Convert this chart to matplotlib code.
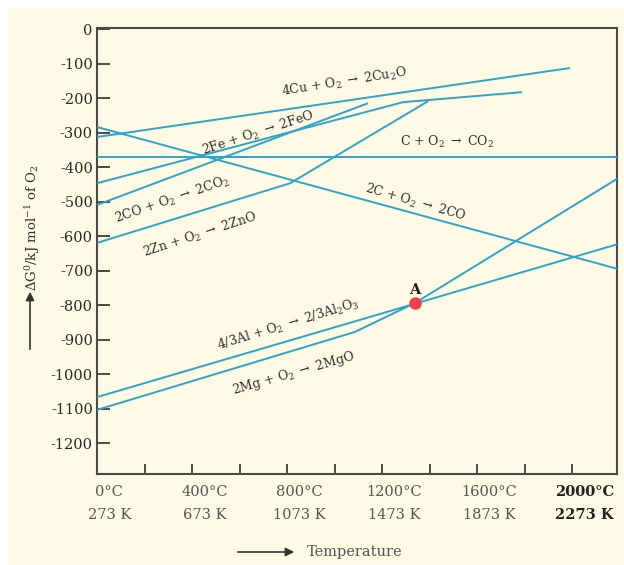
import matplotlib
matplotlib.use('Agg')
import matplotlib.pyplot as plt
from matplotlib.patches import Rectangle, FancyArrowPatch
from matplotlib.transforms import blended_transform_factory

plt.rcParams['font.family'] = ['DejaVu Serif', 'DejaVu Sans']
plt.rcParams['mathtext.fontset'] = 'dejavuserif'

# ---------------- data (temperature in degC, dG in kJ/mol O2) ----------------
cu_T = [0, 1991];            cu_G = [-312, -112]
fe_T = [0, 1288, 1789];      fe_G = [-446, -211, -182]
c_T = [0, 2190];             c_G = [-370, -370]
c2co_T = [0, 2190];          c2co_G = [-283, -694]
co_T = [0, 1141];            co_G = [-509, -214]
zn_T = [0, 813, 1394];       zn_G = [-619, -446, -208]
al_T = [0, 2190];            al_G = [-1066, -623]
mg_T = [0, 1086, 1339, 2190]; mg_G = [-1103, -877, -793, -433]
point_A_T = [1339];          point_A_G = [-793]

y_ticks = list(range(0, -1300, -100))
x_minor_ticks = list(range(200, 2001, 200))
temp_C = [0, 400, 800, 1200, 1600, 2000]
temp_labels_C = ['0°C', '400°C', '800°C', '1200°C', '1600°C', '2000°C']
temp_labels_K = ['273 K', '673 K', '1073 K', '1473 K', '1873 K', '2273 K']

curve_texts = [
    r'4Cu + O$_2$ $\rightarrow$ 2Cu$_2$O',
    r'2Fe + O$_2$ $\rightarrow$ 2FeO',
    r'C + O$_2$ $\rightarrow$ CO$_2$',
    r'2C + O$_2$ $\rightarrow$ 2CO',
    r'2CO + O$_2$ $\rightarrow$ 2CO$_2$',
    r'2Zn + O$_2$ $\rightarrow$ 2ZnO',
    r'4/3Al + O$_2$ $\rightarrow$ 2/3Al$_2$O$_3$',
    r'2Mg + O$_2$ $\rightarrow$ 2MgO',
]
# annotation layout (x, y in data units, rotation in degrees)
curve_text_layout = [
    (1040, -153, 9),
    (678, -301, 18),
    (1474, -327, 0),
    (1339, -503, -16),
    (316, -495, 19),
    (434, -596, 18),
    (804, -857, 17),
    (829, -997, 16),
]

# ---------------- style ----------------
LINE = '#2ea3cc'
BG = '#fdf9e4'
SPINE = '#4a4a4a'
TXT = '#2e2e2e'

fig = plt.figure(figsize=(6.24, 5.65), dpi=100)
fig.patch.set_facecolor('white')
bg = Rectangle((8 / 624, -0.1), 1.2, 1.1 - 8 / 565, transform=fig.transFigure,
               facecolor=BG, edgecolor='none', zorder=-10)
fig.add_artist(bg)

ax = fig.add_axes([97 / 624, 1 - 474 / 565, 520 / 624, 446 / 565])
ax.set_zorder(1)
ax.set_facecolor(BG)
ax.set_xlim(0, 2189)
ax.set_ylim(-1289, 4)

for T, G in [(cu_T, cu_G), (fe_T, fe_G), (c_T, c_G), (c2co_T, c2co_G), (co_T, co_G),
             (zn_T, zn_G), (al_T, al_G), (mg_T, mg_G)]:
    ax.plot(T, G, color=LINE, lw=1.4, solid_capstyle='butt', clip_on=True, zorder=3)

ax.plot(point_A_T, point_A_G, 'o', ms=8, color='#e8434f', mec='#e8434f', zorder=5)
ax.text(point_A_T[0], point_A_G[0] + 37, 'A', ha='center', va='center', fontsize=10.5,
        fontweight='bold', color='#222222', zorder=6)

for txt, (x, y, r) in zip(curve_texts, curve_text_layout):
    ax.text(x, y, txt, ha='center', va='center', rotation=r, rotation_mode='anchor',
            fontsize=9, color=TXT, zorder=4)

for s in ax.spines.values():
    s.set_color(SPINE)
    s.set_linewidth(1.5)

ax.set_yticks(y_ticks)
ax.set_yticklabels([str(v) for v in y_ticks])
ax.tick_params(axis='y', direction='in', length=9, width=1.4, color=SPINE,
               labelsize=10.5, labelcolor='#2a2a2a', pad=3)
ax.set_xticks(x_minor_ticks)
ax.set_xticklabels([])
ax.tick_params(axis='x', direction='in', length=7, width=1.4, color=SPINE)

trans = blended_transform_factory(ax.transData, fig.transFigure)
for i, (t, lc, lk) in enumerate(zip(temp_C, temp_labels_C, temp_labels_K)):
    last = (i == len(temp_C) - 1)
    col = '#222222' if last else '#555555'
    fw = 'bold' if last else 'normal'
    ax.text(t + 52, 1 - 492 / 565, lc, transform=trans, ha='center', va='center',
            fontsize=10.5, color=col, fontweight=fw, clip_on=False)
    ax.text(t + 52, 1 - 515 / 565, lk, transform=trans, ha='center', va='center',
            fontsize=10.5, color=col, fontweight=fw, clip_on=False)

# x axis label with arrow
fig.add_artist(FancyArrowPatch((235 / 624, 1 - 552 / 565), (297 / 624, 1 - 552 / 565),
                               transform=fig.transFigure, arrowstyle='-|>,head_length=5,head_width=2.5',
                               color='#333333', lw=1.2, mutation_scale=1))
fig.text(307 / 624, 1 - 552 / 565, 'Temperature', ha='left', va='center',
         fontsize=10.5, color='#555555')

# y axis label with arrow
fig.add_artist(FancyArrowPatch((30 / 624, 1 - 352 / 565), (30 / 624, 1 - 289 / 565),
                               transform=fig.transFigure, arrowstyle='-|>,head_length=5,head_width=2.5',
                               color='#333333', lw=1.2, mutation_scale=1))
fig.text(33 / 624, 1 - 228 / 565, r'$\Delta$G$^0$/kJ mol$^{\mathregular{-1}}$ of O$_2$',
         rotation=90, ha='center', va='center', fontsize=9.5, color='#333333')

fig.savefig('out.png', dpi=100)
